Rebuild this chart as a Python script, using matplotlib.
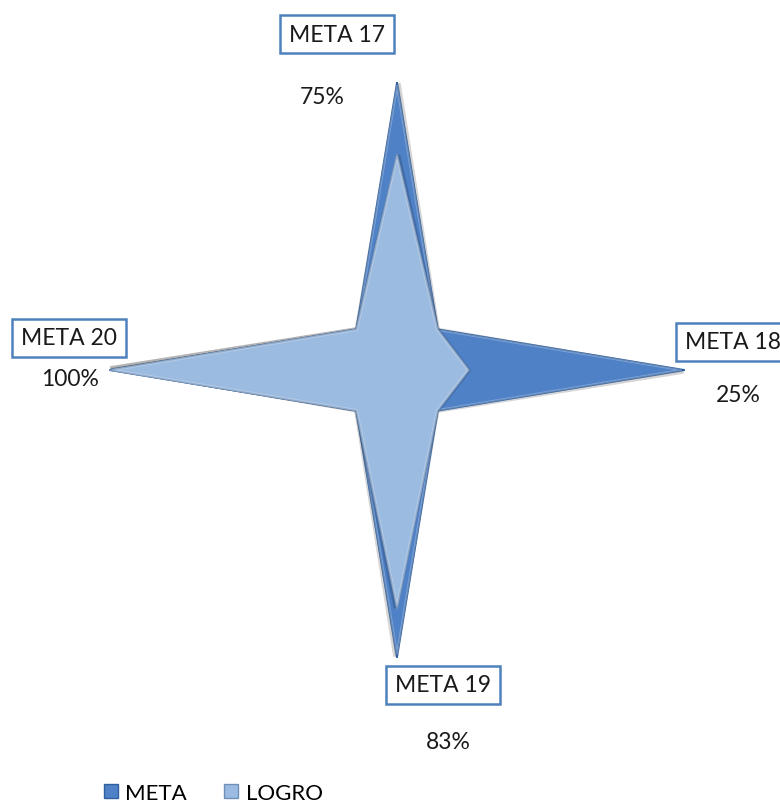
import numpy as np
import matplotlib
matplotlib.use("Agg")
import matplotlib.pyplot as plt
from matplotlib.lines import Line2D

categories = ["META 17", "", "META 18", "", "META 19", "", "META 20", ""]
meta_values = [1.0, 0.2, 1.0, 0.2, 1.0, 0.2, 1.0, 0.2]
logro_values = [0.75, 0.2, 0.25, 0.2, 0.83, 0.2, 1.0, 0.2]
series_names = ["META", "LOGRO"]
pct_labels = ["75%", "25%", "83%", "100%"]

meta_color = "#4F81C7"
meta_edge = "#2F5F9E"
logro_color = "#9CBBE0"
logro_edge = "#6E8FB8"

plt.rcParams['font.family'] = ['Lato', 'DejaVu Sans']

W, H = 780, 803
fig = plt.figure(figsize=(W / 100, H / 100), dpi=100)
cx, cy, R = 397, 371, 288
ax = fig.add_axes([(cx - R) / W, (H - cy - R) / H, 2 * R / W, 2 * R / H], projection='polar')
ax.set_theta_offset(np.pi / 2)
ax.set_theta_direction(-1)
ax.set_ylim(0, 1)
ax.grid(False)
ax.set_xticks([])
ax.set_yticks([])
ax.spines['polar'].set_visible(False)
ax.patch.set_alpha(0)

n = len(categories)
theta = np.linspace(0, 2 * np.pi, n, endpoint=False)
th = np.append(theta, theta[0])

def draw(vals, fc, ec, z):
    v = np.append(vals, vals[0])
    ax.fill(th + 0.006, v * 0.995, facecolor="#000000", alpha=0.16, zorder=z - 0.5,
            edgecolor="#000000", lw=3)
    ax.fill(th, v, facecolor=fc, edgecolor=ec, lw=1.2, zorder=z)
    ax.plot(th, v * 0.985, color="white", alpha=0.25, lw=1.5, zorder=z + 0.1)

draw(meta_values, meta_color, meta_edge, 2)
draw(logro_values, logro_color, logro_edge, 4)

box = dict(boxstyle="square,pad=0.38", facecolor="white", edgecolor="#4F81BD", lw=1.8)
label_pos = {"META 17": (337, 35), "META 18": (733, 343), "META 19": (443, 686), "META 20": (69, 339)}
for c in categories:
    if c:
        x, y = label_pos[c]
        fig.text(x / W, 1 - y / H, c, ha="center", va="center", fontsize=16.5,
                 color="#1a1a1a", bbox=box)

pct_pos = [(322, 98), (738, 396), (448, 743), (70, 380)]
for t, (x, y) in zip(pct_labels, pct_pos):
    fig.text(x / W, 1 - y / H, t, ha="center", va="center", fontsize=16.5, color="#1a1a1a")

handles = [Line2D([], [], marker='s', ls='none', markersize=10, markerfacecolor=meta_color,
                  markeredgecolor=meta_edge),
           Line2D([], [], marker='s', ls='none', markersize=10, markerfacecolor=logro_color,
                  markeredgecolor=logro_edge)]
fig.legend(handles, series_names, loc="lower left", bbox_to_anchor=(84 / W, -0.026), ncol=2,
           frameon=False, fontsize=16, handlelength=0.6, handletextpad=0.35, columnspacing=1.7)

fig.savefig("out.png", dpi=100)
